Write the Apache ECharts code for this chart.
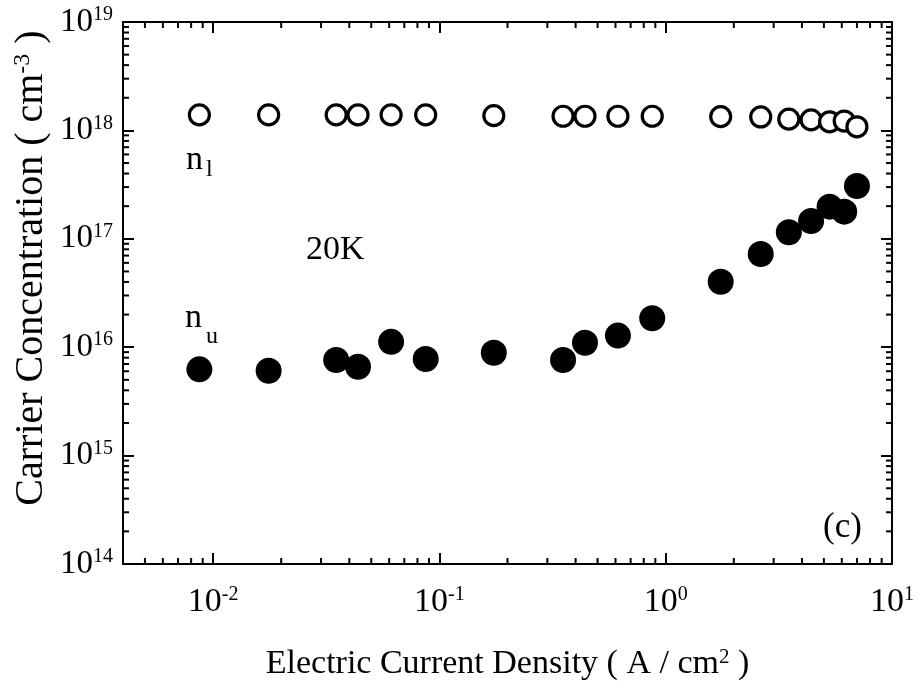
<!DOCTYPE html>
<html>
<head>
<meta charset="utf-8">
<title>Carrier Concentration 20K</title>
<script src="https://cdn.jsdelivr.net/npm/echarts@6/dist/echarts.min.js"></script>
<style>
	html, body { margin: 0; padding: 0; background: #fff; }
	#chart { width: 917px; height: 689px; }
</style>
</head>
<body>
<div id="chart"></div>
<script>
// 电流密度 (A/cm2)，两组数据共用
var currentDensity = [0.0087, 0.0176, 0.035, 0.0437, 0.0612, 0.087, 0.174, 0.352, 0.44, 0.615, 0.872, 1.75, 2.63, 3.5, 4.39, 5.3, 6.15, 7.0];
// n_l 空心圆
var nLower = [1.39e18, 1.39e18, 1.39e18, 1.39e18, 1.39e18, 1.39e18, 1.37e18, 1.35e18, 1.35e18, 1.35e18, 1.35e18, 1.34e18, 1.33e18, 1.27e18, 1.25e18, 1.20e18, 1.22e18, 1.08e18];
// n_u 实心圆
var nUpper = [6.25e15, 6.07e15, 7.62e15, 6.61e15, 1.12e16, 7.78e15, 8.89e15, 7.62e15, 1.10e16, 1.28e16, 1.85e16, 4.02e16, 7.24e16, 1.15e17, 1.46e17, 1.98e17, 1.78e17, 3.07e17];

// 坐标轴范围
var xRange = [0.004, 10];
var yRange = [1e14, 1e19];
// 次刻度所在的十进位
var xDecades = [0.001, 0.01, 0.1, 1];
var yDecades = [1e14, 1e15, 1e16, 1e17, 1e18];
var minorSteps = [2, 3, 4, 5, 6, 7, 8, 9];

var FONT = 'Liberation Serif';
var BLACK = '#000';

function pairs(xs, ys) {
	var out = [];
	for (var i = 0; i < xs.length; i++) {
		out.push([xs[i], ys[i]]);
	}
	return out;
}

//次刻度值
var xMinor = [], yMinor = [];
xDecades.forEach(function(d) {
	minorSteps.forEach(function(s) {
		var v = d * s;
		if (v > xRange[0] && v < xRange[1]) xMinor.push([v, yRange[0]]);
	});
});
yDecades.forEach(function(d) {
	minorSteps.forEach(function(s) {
		yMinor.push([xRange[0], d * s]);
	});
});

// 10^n 标签
function powLabel(v) {
	var e = Math.round(Math.log(v) / Math.LN10);
	return '10{s|' + e + '}';
}

var labelRich = {
	s: { fontSize: 20, fontFamily: FONT, color: BLACK, verticalAlign: 'top', padding: [0, 0, 14, 0] }
};

function makeAxis(pos, range, showLabel, extra) {
	var ax = {
		type: 'log',
		logBase: 10,
		min: range[0],
		max: range[1],
		position: pos,
		axisLine: { show: true, onZero: false, lineStyle: { color: BLACK, width: 2 } },
		axisTick: { show: true, inside: true, length: 11, lineStyle: { color: BLACK, width: 2 } },
		splitLine: { show: false },
		minorTick: { show: false },
		axisLabel: {
			show: showLabel,
			color: BLACK,
			fontFamily: FONT,
			fontSize: 33,
			formatter: powLabel,
			rich: labelRich,
			showMinLabel: true,
			showMaxLabel: true
		}
	};
	for (var k in extra) ax[k] = extra[k];
	return ax;
}

var xBottom = makeAxis('bottom', xRange, true, {
	name: 'Electric Current Density ( A / cm{sup|2} )',
	nameLocation: 'middle',
	nameGap: 83,
	nameTextStyle: {
		color: BLACK, fontFamily: FONT, fontSize: 34,
		rich: { sup: { fontSize: 21, fontFamily: FONT, color: BLACK, verticalAlign: 'top', padding: [0, 0, 14, 0] } }
	}
});
xBottom.axisLabel.showMinLabel = false;
xBottom.axisLabel.margin = 21;
xBottom.axisLabel.fontSize = 34;

var yLeft = makeAxis('left', yRange, true, {});
yLeft.axisLabel.margin = 10;

// 次刻度：上下、左右都画
function minorTickRender(isX) {
	return function(params, api) {
		var v = api.value(isX ? 0 : 1);
		var a = isX ? api.coord([v, yRange[0]]) : api.coord([xRange[0], v]);
		var b = isX ? api.coord([v, yRange[1]]) : api.coord([xRange[1], v]);
		var len = 6;
		var st = { stroke: BLACK, lineWidth: 2 };
		return {
			type: 'group',
			children: isX ? [
				{ type: 'line', shape: { x1: a[0], y1: a[1], x2: a[0], y2: a[1] - len }, style: st },
				{ type: 'line', shape: { x1: b[0], y1: b[1], x2: b[0], y2: b[1] + len }, style: st }
			] : [
				{ type: 'line', shape: { x1: a[0], y1: a[1], x2: a[0] + len, y2: a[1] }, style: st },
				{ type: 'line', shape: { x1: b[0], y1: b[1], x2: b[0] - len, y2: b[1] }, style: st }
			]
		};
	};
}

var bigFont = '34px "Liberation Serif"';
var subFont = '24px "Liberation Serif"';

var option = {
	animation: false,
	backgroundColor: '#fff',
	grid: { left: 123, top: 22, right: 21, bottom: 125, show: false },
	xAxis: [xBottom, makeAxis('top', xRange, false, {})],
	yAxis: [yLeft, makeAxis('right', yRange, false, {})],
	series: [{
			name: 'xMinor',
			type: 'custom',
			silent: true,
			renderItem: minorTickRender(true),
			encode: { x: 0, y: 1 },
			data: xMinor,
			clip: false
		},
		{
			name: 'yMinor',
			type: 'custom',
			silent: true,
			renderItem: minorTickRender(false),
			encode: { x: 0, y: 1 },
			data: yMinor,
			clip: false
		},
		{
			name: 'n_l',
			type: 'scatter',
			symbol: 'circle',
			symbolSize: 20,
			itemStyle: { color: '#fff', borderColor: BLACK, borderWidth: 3.2, opacity: 1 },
			data: pairs(currentDensity, nLower),
			z: 3
		},
		{
			name: 'n_u',
			type: 'scatter',
			symbol: 'circle',
			symbolSize: 26,
			itemStyle: { color: BLACK, opacity: 1 },
			data: pairs(currentDensity, nUpper),
			z: 3
		}
	],
	//纵轴标题和图中标注文字
	graphic: [
		{
			type: 'text',
			x: 31,
			y: 268,
			rotation: Math.PI / 2,
			style: {
				text: 'Carrier Concentration ( cm{sup|-3} )',
				fill: BLACK,
				font: '40px "Liberation Serif"',
				align: 'center',
				verticalAlign: 'middle',
				rich: { sup: { fontSize: 24, fontFamily: FONT, fill: BLACK, verticalAlign: 'top', padding: [0, 0, 16, 0] } }
			}
		},
		{ type: 'text', left: 186, top: 143, style: { text: 'n', fill: BLACK, font: bigFont } },
		{ type: 'text', left: 206, top: 158, style: { text: 'l', fill: BLACK, font: subFont } },
		{ type: 'text', left: 306, top: 233, style: { text: '20K', fill: BLACK, font: bigFont } },
		{ type: 'text', left: 185, top: 301, style: { text: 'n', fill: BLACK, font: bigFont } },
		{ type: 'text', left: 206, top: 325, style: { text: 'u', fill: BLACK, font: subFont } },
		{ type: 'text', left: 823, top: 510, style: { text: '(c)', fill: BLACK, font: '35px "Liberation Serif"' } }
	]
};

var myChart = echarts.init(document.getElementById('chart'));
myChart.setOption(option);
</script>
</body>
</html>
